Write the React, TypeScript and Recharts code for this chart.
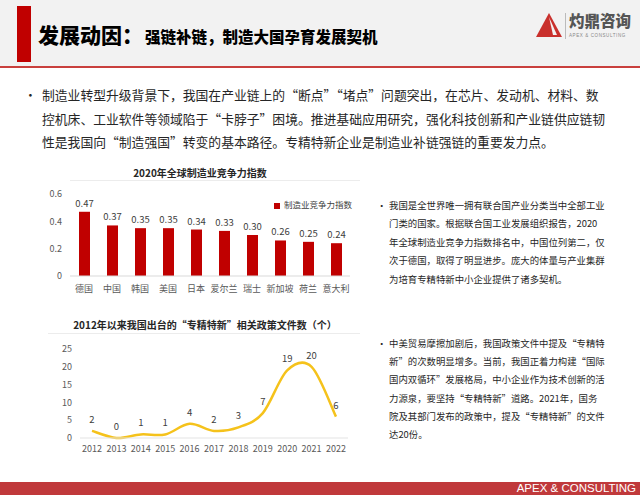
import React from 'react';
import { BarChart, Bar, XAxis, YAxis, LabelList, Legend, LineChart, Line } from 'recharts';

const countries = ['德国', '中国', '韩国', '美国', '日本', '爱尔兰', '瑞士', '新加坡', '荷兰', '意大利'];
const indexValues = [0.47, 0.37, 0.35, 0.35, 0.34, 0.33, 0.3, 0.26, 0.25, 0.24];
const indexTicks = [0, 0.2, 0.4, 0.6];

const years = ['2012', '2013', '2014', '2015', '2016', '2017', '2018', '2019', '2020', '2021', '2022'];
const policyCounts = [2, 0, 1, 1, 4, 2, 3, 7, 19, 20, 6];
const countTicks = [0, 5, 10, 15, 20, 25];

const introLines = [
  '制造业转型升级背景下，我国在产业链上的“断点”“堵点”问题突出，在芯片、发动机、材料、数',
  '控机床、工业软件等领域陷于“卡脖子”困境。推进基础应用研究，强化科技创新和产业链供应链韧',
  '性是我国向“制造强国”转变的基本路径。专精特新企业是制造业补链强链的重要发力点。',
];
const note1Lines = [
  '我国是全世界唯一拥有联合国产业分类当中全部工业',
  '门类的国家。根据联合国工业发展组织报告，2020',
  '年全球制造业竞争力指数排名中，中国位列第二，仅',
  '次于德国，取得了明显进步。庞大的体量与产业集群',
  '为培育专精特新中小企业提供了诸多契机。',
];
const note2Lines = [
  '中美贸易摩擦加剧后，我国政策文件中提及“专精特',
  '新”的次数明显增多。当前，我国正着力构建“国际',
  '国内双循环”发展格局，中小企业作为技术创新的活',
  '力源泉，要坚持“专精特新”道路。2021年，国务',
  '院及其部门发布的政策中，提及“专精特新”的文件',
  '达20份。',
];

const barData = countries.map((c, i) => ({ name: c, value: indexValues[i] }));
const lineData = years.map((y, i) => ({ year: y, count: policyCounts[i] }));

const FONT = '"Noto Sans CJK SC", "Noto Sans", sans-serif';
const RED = '#c00000';

const catmullRom = (context: any) => {
  let pts: [number, number][] = [];
  return {
    areaStart() {},
    areaEnd() {},
    lineStart() {
      pts = [];
    },
    point(x: number, y: number) {
      pts.push([+x, +y]);
    },
    lineEnd() {
      if (!pts.length) return;
      context.moveTo(pts[0][0], pts[0][1]);
      for (let i = 0; i < pts.length - 1; i++) {
        const p0 = pts[i - 1] || pts[i];
        const p1 = pts[i];
        const p2 = pts[i + 1];
        const p3 = pts[i + 2] || p2;
        context.bezierCurveTo(
          p1[0] + (p2[0] - p0[0]) / 6,
          p1[1] + (p2[1] - p0[1]) / 6,
          p2[0] - (p3[0] - p1[0]) / 6,
          p2[1] - (p3[1] - p1[1]) / 6,
          p2[0],
          p2[1]
        );
      }
    },
  };
};

function TextBlock({ lines, left, top, fontSize, lineHeight, bulletLeft, color }: any) {
  return (
    <>
      <div style={{ position: 'absolute', left: bulletLeft, top, fontSize, lineHeight: `${lineHeight}px`, color }}>•</div>
      <div style={{ position: 'absolute', left, top, fontSize, lineHeight: `${lineHeight}px`, color, whiteSpace: 'nowrap' }}>
        {lines.map((l: string, i: number) => (
          <div key={i}>{l}</div>
        ))}
      </div>
    </>
  );
}

export default function App() {
  return (
    <div
      style={{
        position: 'absolute',
        left: 0,
        top: 0,
        width: 640,
        height: 495,
        background: '#ffffff',
        overflow: 'hidden',
        fontFamily: FONT,
      }}
    >
      {/* header */}
      <div style={{ position: 'absolute', left: 0, top: 0, width: 640, height: 66, background: '#f2f2f2' }} />
      <div style={{ position: 'absolute', left: 17, top: 6, width: 14, height: 56, background: RED }} />
      <div style={{ position: 'absolute', left: 0, top: 66, width: 640, height: 2, background: '#c9403d' }} />
      <div
        style={{
          position: 'absolute',
          left: 38,
          top: 19,
          display: 'flex',
          alignItems: 'baseline',
          whiteSpace: 'nowrap',
          color: '#000',
          fontWeight: 900,
        }}
      >
        <span style={{ fontSize: 21, marginRight: 2 }}>发展动因：</span>
        <span style={{ fontSize: 15.5 }}>强链补链，制造大国孕育发展契机</span>
      </div>
      {/* logo */}
      <svg style={{ position: 'absolute', left: 535, top: 12 }} width={28} height={26}>
        <polygon points="1,25 14,1 27,25" fill="#c9302c" />
        <polygon points="14,5 22,23 18,23" fill="#f2f2f2" />
      </svg>
      <div style={{ position: 'absolute', left: 565, top: 13, width: 1, height: 26, background: '#bbb' }} />
      <div style={{ position: 'absolute', left: 569, top: 9, fontSize: 15.5, fontWeight: 900, color: '#555', whiteSpace: 'nowrap' }}>
        灼鼎咨询
      </div>
      <div
        style={{
          position: 'absolute',
          left: 569,
          top: 33,
          fontSize: 4.5,
          color: '#888',
          whiteSpace: 'nowrap',
          fontFamily: '"Liberation Sans", Arial, sans-serif',
          letterSpacing: 0.6,
        }}
      >
        APEX &amp; CONSULTING
      </div>

      {/* intro paragraph */}
      <TextBlock lines={introLines} left={42} bulletLeft={24} top={83} fontSize={12.8} lineHeight={23.5} color="#262626" />

      {/* bar chart */}
      <div style={{ position: 'absolute', left: 40, top: 165, width: 320, textAlign: 'center', fontSize: 10, fontWeight: 700, color: '#262626' }}>
        2020年全球制造业竞争力指数
      </div>
      <div style={{ position: 'absolute', left: 70, top: 180, width: 290, height: 1, background: '#ececec' }} />
      <div style={{ position: 'absolute', left: 40, top: 180 }}>
        <BarChart width={320} height={120} data={barData} margin={{ top: 14, right: 10, left: 0, bottom: 0 }}>
          <XAxis
            dataKey="name"
            interval={0}
            tickLine={false}
            axisLine={{ stroke: '#d9d9d9' }}
            tick={{ fontSize: 9, fill: '#595959' }}
            tickMargin={4}
            height={24}
          />
          <YAxis
            width={30}
            domain={[0, 0.6]}
            ticks={indexTicks}
            axisLine={false}
            tickLine={false}
            tick={{ fontSize: 9, fill: '#595959' }}
            tickFormatter={(v: number) => (v === 0 ? '0' : v.toFixed(1))}
          />
          <Legend
            layout="horizontal"
            verticalAlign="middle"
            align="center"
            iconType="square"
            iconSize={6}
            wrapperStyle={{ top: 18, left: 218, width: 120, height: 14, fontSize: 8.5, color: '#404040' }}
            formatter={(v: string) => <span style={{ color: '#404040', fontSize: 8.5 }}>{v}</span>}
          />
          <Bar dataKey="value" name="制造业竞争力指数" fill={RED} barSize={11} isAnimationActive={false}>
            <LabelList
              dataKey="value"
              position="top"
              offset={5}
              style={{ fontSize: 9.5, fill: '#404040' }}
              formatter={(v: any) => Number(v).toFixed(2)}
            />
          </Bar>
        </BarChart>
      </div>

      {/* note 1 */}
      <TextBlock lines={note1Lines} left={389} bulletLeft={377} top={196} fontSize={9.4} lineHeight={18.4} color="#262626" />

      {/* line chart */}
      <div style={{ position: 'absolute', left: 40, top: 317, width: 330, textAlign: 'center', fontSize: 10, fontWeight: 700, color: '#262626' }}>
        2012年以来我国出台的“专精特新”相关政策文件数（个）
      </div>
      <div style={{ position: 'absolute', left: 48, top: 333, width: 312, height: 1, background: '#ececec' }} />
      <div style={{ position: 'absolute', left: 40, top: 340 }}>
        <LineChart width={320} height={125} data={lineData} margin={{ top: 9, right: 12, left: 0, bottom: 0 }}>
          <XAxis
            dataKey="year"
            interval={0}
            tickLine={false}
            axisLine={{ stroke: '#e3e3e3' }}
            tick={{ fontSize: 9, fill: '#595959' }}
            tickMargin={2}
            padding={{ left: 12, right: 12 }}
            height={27}
          />
          <YAxis
            width={40}
            domain={[0, 25]}
            ticks={countTicks}
            axisLine={false}
            tickLine={false}
            tick={{ fontSize: 9, fill: '#595959' }}
          />
          <Line
            dataKey="count"
            type={catmullRom as any}
            stroke="#f5c21b"
            strokeWidth={2.5}
            dot={false}
            activeDot={false}
            isAnimationActive={false}
          >
            <LabelList dataKey="count" position="top" offset={8} style={{ fontSize: 9.5, fill: '#404040' }} />
          </Line>
        </LineChart>
      </div>

      {/* note 2 */}
      <TextBlock lines={note2Lines} left={389} bulletLeft={377} top={334} fontSize={9.4} lineHeight={18.2} color="#262626" />

      {/* footer */}
      <div style={{ position: 'absolute', left: 0, top: 482, width: 640, height: 13, background: '#c0393b' }} />
      <div
        style={{
          position: 'absolute',
          right: 4,
          top: 481,
          fontSize: 11.5,
          lineHeight: '15px',
          color: '#ffffff',
          fontFamily: '"Liberation Sans", Arial, sans-serif',
          whiteSpace: 'nowrap',
        }}
      >
        APEX &amp; CONSULTING
      </div>
    </div>
  );
}
